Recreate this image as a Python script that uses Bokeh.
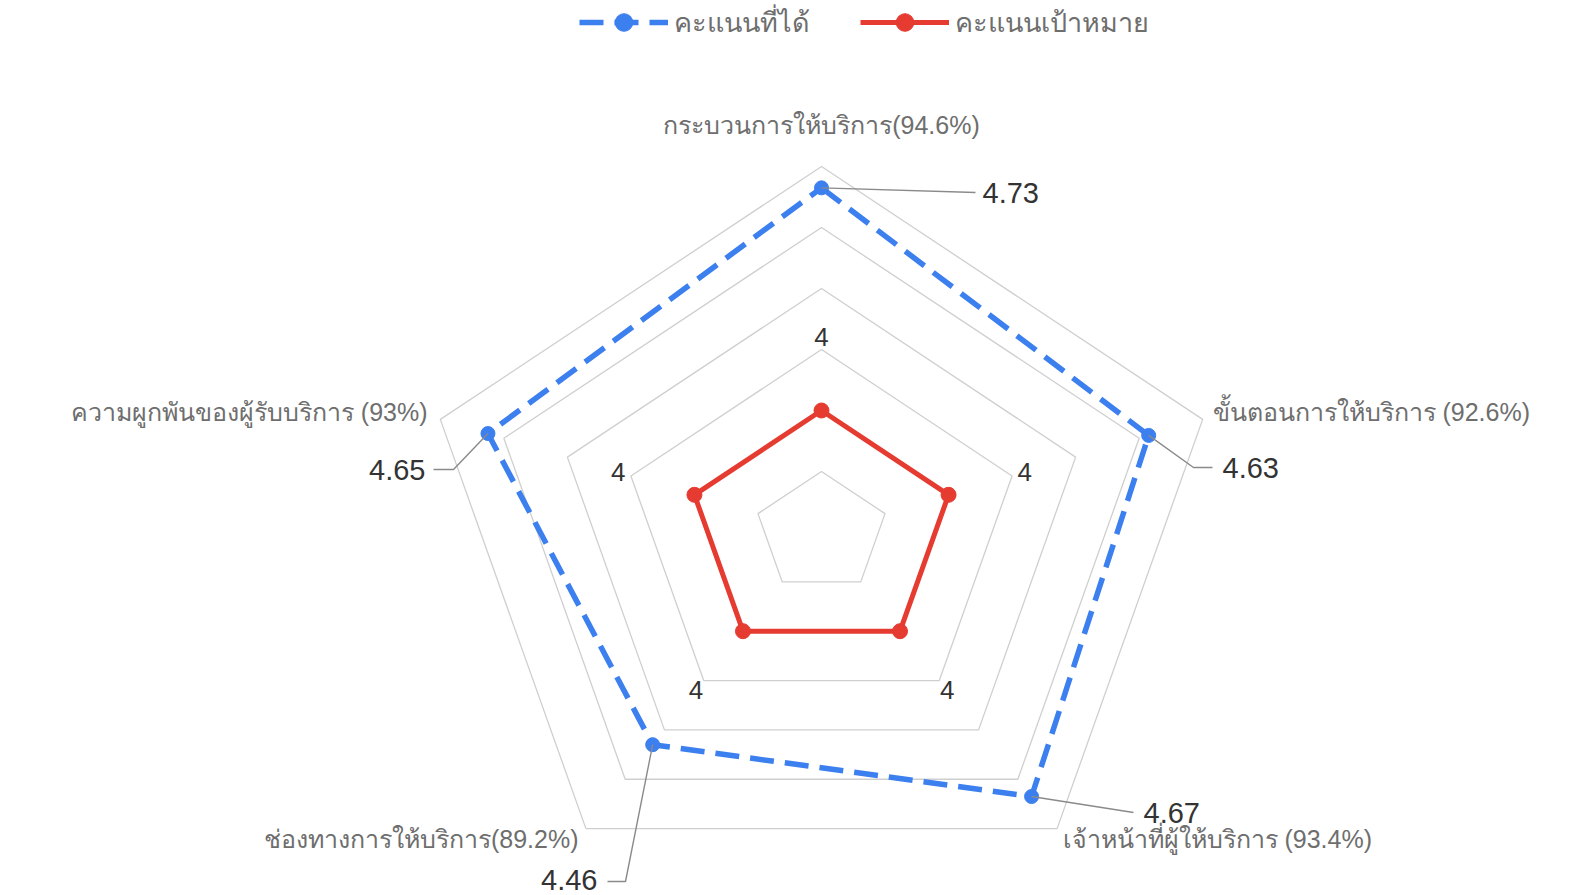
import numpy as np
from bokeh.plotting import figure
from bokeh.models import Range1d, Legend, LegendItem
from bokeh.core.properties import value
from bokeh.embed import file_html
from bokeh.resources import INLINE

# ---------------- data ----------------
categories = [
    "กระบวนการให้บริการ(94.6%)",
    "ขั้นตอนการให้บริการ (92.6%)",
    "เจ้าหน้าที่ผู้ให้บริการ (93.4%)",
    "ช่องทางการให้บริการ(89.2%)",
    "ความผูกพันของผู้รับบริการ (93%)",
]
scores = [4.73, 4.63, 4.67, 4.46, 4.65]      # คะแนนที่ได้
targets = [4, 4, 4, 4, 4]                    # คะแนนเป้าหมาย
series_names = ["คะแนนที่ได้", "คะแนนเป้าหมาย"]
ring_values = [3.8, 4.0, 4.2, 4.4, 4.6, 4.8]
r_min = 3.6

# ---------------- geometry helpers ----------------
W, H = 1589, 895
CX, CY = 821, 532          # centre in page pixels
KX, KY = 334.0, 305.0      # pixels per value unit (x, y)

def px(x):  # page pixel -> data x
    return (x - CX) / KX

def py(y):  # page pixel -> data y
    return (CY - y) / KY

n = len(categories)
theta = np.pi / 2 - np.arange(n) * 2 * np.pi / n

def polar(vals):
    r = np.asarray(vals, dtype=float) - r_min
    return list(r * np.cos(theta)), list(r * np.sin(theta))

p = figure(width=W, height=H, output_backend="svg", toolbar_location=None,
           x_range=Range1d(px(0), px(W)), y_range=Range1d(py(H), py(0)),
           min_border=0, outline_line_color=None)
p.axis.visible = False
p.grid.visible = False
p.background_fill_color = "white"

# grid rings
rx, ry = [], []
for rv in ring_values:
    xs, ys = polar([rv] * n)
    rx.append(xs + [xs[0]])
    ry.append(ys + [ys[0]])
p.multi_line(rx, ry, line_color="#cfcfcf", line_width=1.3)

blue = "#3C7FEF"
red = "#E53B30"

# target series
tx, ty = polar(targets)
rl = p.line(tx + [tx[0]], ty + [ty[0]], line_color=red, line_width=5, line_join="round")
rs = p.scatter(tx, ty, size=15, color=red)

# score series
sx_, sy_ = polar(scores)
bl = p.line(sx_ + [sx_[0]], sy_ + [sy_[0]], line_color=blue, line_width=5.5,
            line_dash="24 11", line_join="round")
bs = p.scatter(sx_, sy_, size=14, color=blue)

# leader lines + score labels (positions in page pixels)
lead_pts = [
    [(975, 192)],
    [(1193, 467), (1212, 467)],
    [(1133, 812)],
    [(625, 881), (607, 881)],
    [(453, 469), (433, 469)],
]
lab_pos = [(982, 192, "left"), (1222, 467, "left"), (1143, 812, "left"),
           (597, 879, "right"), (425, 469, "right")]
lxs, lys = [], []
for i in range(n):
    lxs.append([sx_[i]] + [px(a) for a, b in lead_pts[i]])
    lys.append([sy_[i]] + [py(b) for a, b in lead_pts[i]])
p.multi_line(lxs, lys, line_color="#8a8a8a", line_width=1.4)

for i in range(n):
    x, y, al = lab_pos[i]
    p.text([px(x)], [py(y)], text=[f"{scores[i]:.2f}"], text_align=al,
           text_baseline="middle", text_font=value("Liberation Sans"),
           text_font_size="29px", text_color="#333333")

# target labels (placed just outside the 4.2 ring)
gx, gy = polar([t + 0.24 for t in targets])
p.text(gx, gy, text=[f"{t:g}" for t in targets], text_align="center",
       text_baseline="middle", text_font=value("Liberation Sans"),
       text_font_size="26px", text_color="#333333")

# category labels
cat_pos = [(821, 124, "center"), (1212, 411, "left"), (1062, 838, "left"),
           (578, 838, "right"), (427, 411, "right")]
for i in range(n):
    x, y, al = cat_pos[i]
    p.text([px(x)], [py(y)], text=[categories[i]], text_align=al,
           text_baseline="middle", text_font=value("Liberation Sans"),
           text_font_size="25px", text_color="#6e6e6e")

legend = Legend(items=[LegendItem(label=series_names[0], renderers=[bl, bs]),
                       LegendItem(label=series_names[1], renderers=[rl, rs])],
                orientation="horizontal", location=(579, 851),
                border_line_color=None, background_fill_alpha=0,
                glyph_width=89, glyph_height=44, label_text_font_size="27px",
                label_text_font="Liberation Sans", label_text_color="#6e6e6e",
                spacing=50, padding=0, margin=0, label_standoff=6)
p.add_layout(legend)

open("out.html", "w").write(file_html(p, INLINE))
